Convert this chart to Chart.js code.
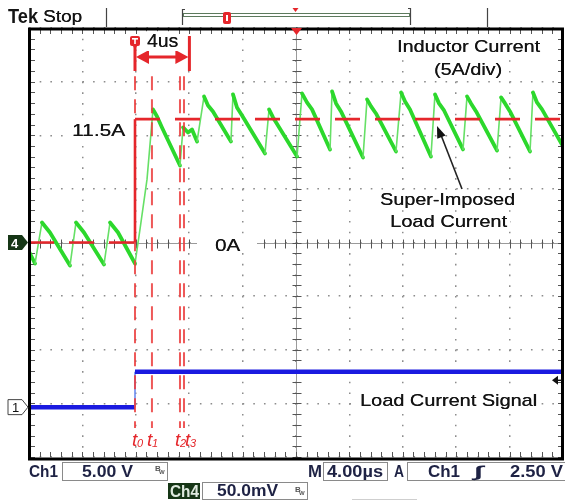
<!DOCTYPE html>
<html><head><meta charset="utf-8">
<script src="https://cdn.jsdelivr.net/npm/chart.js@4/dist/chart.umd.min.js"></script>
<style>html,body{margin:0;padding:0;background:#fff;overflow:hidden}canvas{display:block}</style>
</head><body>
<canvas id="c" width="565" height="501"></canvas>
<script>
// ---- axis settings (values) ----
const timeRange = [0, 40];        // µs, 4 µs/div, 10 div
const timePerDiv = 4;
const currentRange = [-20, 20];   // A, 5 A/div, 8 div
const ampsPerDiv = 5;
const voltsPerDiv = 5;            // Ch1 5.00 V/div
const ch1OffsetDiv = -3.07;       // Ch1 ground marker position (div from centre)
const triggerLevel = 2.5;         // V

// ---- Ch4: inductor current (A) vs time (µs) ----
const inductorTime = [0.00,0.45,0.97,1.27,1.57,3.07,3.52,3.82,4.12,5.62,6.07,6.37,6.67,7.94,8.31,8.84,9.29,9.59,9.96,11.31,11.54,11.91,12.21,12.59,13.11,13.41,13.78,15.13,15.28,15.58,15.96,17.68,17.98,18.28,18.65,20.08,20.45,20.82,21.20,22.55,22.70,23.00,23.37,25.02,25.32,25.62,25.99,27.49,27.87,28.17,28.54,30.11,30.41,30.71,31.09,32.51,32.81,33.11,33.49,35.06,35.36,35.66,36.03,37.53,37.75,38.05,38.43,40.00];
const inductorCurrent = [-0.84,-1.96,1.87,1.40,0.93,-2.15,1.87,1.40,0.93,-2.05,1.87,1.40,0.93,-1.96,1.21,5.88,12.41,11.75,10.73,7.18,10.73,10.26,10.54,9.42,13.62,12.78,12.22,9.42,13.81,12.59,11.85,8.30,12.41,11.66,10.91,8.02,13.90,13.06,12.41,8.68,14.09,12.97,12.22,7.93,13.34,12.69,12.03,8.49,13.99,13.15,12.41,8.02,13.81,12.97,12.31,8.68,13.62,12.97,12.22,8.58,13.53,12.97,12.22,8.49,13.99,13.06,12.41,8.96];

// ---- super-imposed load current step (A) ----
const loadTime = [0, 7.94, 7.94, 40];
const loadCurrent = [0, 0, 11.5, 11.5];
const stepLabel = '11.5A';
const zeroLabel = '0A';

// ---- Ch1: load current signal (V) ----
const signalTime = [0, 7.94, 7.94, 40];
const signalVolts = [0, 0, 3.3, 3.3];

// ---- time markers t0..t3 (µs) ----
const markerTimes = [7.94, 9.21, 11.31, 11.61];
const markerNames = ['0', '1', '2', '3'];
const markerSpan = [15.5, -17.3]; // A extent of the marker lines
const spanMicros = 4;
const spanLabel = '4us';

const toXY = (xs, ys) => xs.map((v, i) => ({x: v, y: ys[i]}));
const markerData = [];
markerTimes.forEach((t, i) => {
  if (i) markerData.push({x: t, y: null});
  markerData.push({x: t, y: markerSpan[0]}, {x: t, y: markerSpan[1]});
});

const RED = '#e5262b';
const FONT = '"Liberation Sans", Arial, sans-serif';
const INK = '#141414';

function txt(ctx, s, x, y, w, font, color) {
  ctx.save();
  ctx.font = font; ctx.fillStyle = color; ctx.textAlign = 'left'; ctx.textBaseline = 'alphabetic';
  const m = ctx.measureText(s).width;
  ctx.translate(x, y);
  if (w) ctx.scale(w / m, 1);
  ctx.fillText(s, 0, 0);
  ctx.restore();
}
function label(ctx, s, x, y, w, size, pad) {
  ctx.save();
  ctx.fillStyle = '#fff';
  ctx.fillRect(x - pad, y - size * 0.85, w + 2 * pad, size * 1.1);
  ctx.restore();
  txt(ctx, s, x, y, w, size + 'px ' + FONT, INK);
  txt(ctx, s, x + 0.3, y, w, size + 'px ' + FONT, INK);
}
function arrowHead(ctx, tx, ty, fx, fy, len, half) {
  const dx = tx - fx, dy = ty - fy, L = Math.hypot(dx, dy);
  const ux = dx / L, uy = dy / L;
  const bx = tx - ux * len, by = ty - uy * len;
  ctx.beginPath();
  ctx.moveTo(tx, ty);
  ctx.lineTo(bx - uy * half, by + ux * half);
  ctx.lineTo(bx + uy * half, by - ux * half);
  ctx.closePath(); ctx.fill();
}
function box(ctx, x1, y1, x2, y2) {
  ctx.save(); ctx.strokeStyle = '#8a8a8a'; ctx.lineWidth = 1;
  ctx.strokeRect(x1 + 0.5, y1 + 0.5, x2 - x1, y2 - y1); ctx.restore();
}
function tag(ctx, yc, fill, stroke) {
  ctx.beginPath();
  ctx.moveTo(8, yc - 7.5); ctx.lineTo(22, yc - 7.5); ctx.lineTo(28, yc);
  ctx.lineTo(22, yc + 7.5); ctx.lineTo(8, yc + 7.5); ctx.closePath();
  ctx.fillStyle = fill; ctx.fill();
  if (stroke) { ctx.strokeStyle = stroke; ctx.lineWidth = 1; ctx.stroke(); }
}

const scopePlugin = {
  id: 'scope',
  beforeDatasetsDraw(chart) {
    const {ctx, chartArea: a, scales: {x, y}} = chart;
    ctx.save();
    const cx = Math.round(x.getPixelForValue((timeRange[0] + timeRange[1]) / 2)) + 0.5;
    const cy = Math.round(y.getPixelForValue(0)) + 0.5;
    ctx.strokeStyle = '#9a9a9a'; ctx.lineWidth = 1;
    ctx.beginPath();
    ctx.moveTo(cx, a.top); ctx.lineTo(cx, a.bottom);
    ctx.moveTo(a.left, cy); ctx.lineTo(a.right, cy);
    ctx.stroke();
    ctx.strokeStyle = '#555'; ctx.beginPath();
    for (let v = timeRange[0]; v <= timeRange[1] + 1e-6; v += timePerDiv / 5) {
      const px = Math.round(x.getPixelForValue(v)) + 0.5;
      ctx.moveTo(px, cy - 4); ctx.lineTo(px, cy + 5);
      ctx.moveTo(px, a.top); ctx.lineTo(px, a.top + 6);
      ctx.moveTo(px, a.bottom); ctx.lineTo(px, a.bottom - 5);
    }
    for (let v = currentRange[0]; v <= currentRange[1] + 1e-6; v += ampsPerDiv / 5) {
      const py = Math.round(y.getPixelForValue(v)) + 0.5;
      ctx.moveTo(cx - 4, py); ctx.lineTo(cx + 5, py);
      ctx.moveTo(a.left, py); ctx.lineTo(a.left + 6, py);
      ctx.moveTo(a.right, py); ctx.lineTo(a.right - 5, py);
    }
    ctx.stroke();
    // white patches behind the annotation labels (they hide the graticule)
    ctx.fillStyle = '#fff';
    ctx.fillRect(197, cy - 8, 60, 17);
    ctx.restore();
  },
  afterDatasetsDraw(chart) {
    const {ctx, chartArea: a, scales: {x, y, y2}} = chart;
    ctx.save();
    // frame
    ctx.strokeStyle = '#000'; ctx.lineWidth = 3;
    ctx.strokeRect(a.left + 0.5, a.top + 1, a.right - a.left - 1, a.bottom - a.top + 1);
    const cx = x.getPixelForValue((timeRange[0] + timeRange[1]) / 2);
    // horizontal position marker
    ctx.fillStyle = RED;
    ctx.beginPath(); ctx.moveTo(cx - 5, a.top); ctx.lineTo(cx + 6, a.top); ctx.lineTo(cx + 0.5, a.top + 7); ctx.closePath(); ctx.fill();

    // trigger marker + 4us span arrow
    const x0 = x.getPixelForValue(markerTimes[0]);
    const xs = x.getPixelForValue(markerTimes[0] + spanMicros);
    ctx.fillStyle = RED;
    ctx.beginPath(); ctx.roundRect(x0 - 5, 36, 10, 10, 2); ctx.fill();
    ctx.beginPath(); ctx.moveTo(x0 - 3, 45); ctx.lineTo(x0 + 3, 45); ctx.lineTo(x0, 49); ctx.closePath(); ctx.fill();
    ctx.fillStyle = '#fff';
    ctx.fillRect(x0 - 3, 38, 6, 1.6); ctx.fillRect(x0 - 0.8, 38, 1.6, 6);
    ctx.strokeStyle = RED; ctx.lineWidth = 3;
    ctx.beginPath();
    ctx.moveTo(x0, 47); ctx.lineTo(x0, 71);
    ctx.moveTo(xs + 1, 36); ctx.lineTo(xs + 1, 71);
    ctx.moveTo(x0 + 8, 57); ctx.lineTo(xs - 8, 57);
    ctx.stroke();
    ctx.fillStyle = RED;
    arrowHead(ctx, x0 + 1, 57, x0 + 20, 57, 13, 7);
    arrowHead(ctx, xs, 57, xs - 20, 57, 13, 7);
    label(ctx, spanLabel, 147, 46.5, 31, 18, 1);

    // marker labels t0..t3
    const offs = [-3, -5, -5, 1];
    markerTimes.forEach((t, i) => {
      const px = x.getPixelForValue(t) + offs[i];
      txt(ctx, 't', px, 446, null, 'italic 19px ' + FONT, RED);
      txt(ctx, markerNames[i], px + 5, 447, null, 'italic 11px ' + FONT, RED);
    });

    // level labels
    label(ctx, stepLabel, 72, y.getPixelForValue(11.5) + 17, 53, 17, 2);
    txt(ctx, zeroLabel, 215, y.getPixelForValue(0) + 8.5, 25, '17px ' + FONT, INK);
    txt(ctx, zeroLabel, 215.3, y.getPixelForValue(0) + 8.5, 25, '17px ' + FONT, INK);

    // annotations
    label(ctx, 'Inductor Current', 397, 52, 143, 17, 3);
    label(ctx, '(5A/div)', 434, 74.5, 68, 17, 3);
    label(ctx, 'Super-Imposed', 380, 204.5, 135, 17, 3);
    label(ctx, 'Load Current', 390, 227, 117, 17, 3);
    label(ctx, 'Load Current Signal', 360, 406, 177, 17, 3);
    ctx.strokeStyle = '#222'; ctx.lineWidth = 1.6; ctx.fillStyle = '#111';
    ctx.beginPath(); ctx.moveTo(462, 189); ctx.lineTo(441, 135); ctx.stroke();
    arrowHead(ctx, 437, 126, 462, 189, 12, 4.5);

    // channel tags
    const y4 = y.getPixelForValue(0);
    tag(ctx, y4, '#163616');
    txt(ctx, '4', 11, y4 + 5, null, 'bold 13px ' + FONT, '#fff');
    const y1 = y2.getPixelForValue(0);
    tag(ctx, y1, '#fff', '#444');
    txt(ctx, '1', 12, y1 + 5, null, '13px ' + FONT, '#111');
    // trigger level arrow
    const yt = y2.getPixelForValue(triggerLevel);
    ctx.fillStyle = '#111';
    ctx.beginPath(); ctx.moveTo(552, yt); ctx.lineTo(558, yt - 4.5); ctx.lineTo(558, yt + 4.5); ctx.closePath(); ctx.fill();
    ctx.fillRect(557, yt - 0.7, 5, 1.4);

    // top bar
    txt(ctx, 'Tek', 8, 23, 30, 'bold 21px ' + FONT, '#151515');
    txt(ctx, 'Stop', 43, 21.5, 39, '16px ' + FONT, '#151515');
    txt(ctx, 'Stop', 43.3, 21.5, 39, '16px ' + FONT, '#151515');
    ctx.strokeStyle = '#444'; ctx.lineWidth = 1.2;
    ctx.beginPath();
    ctx.moveTo(106.5, 8); ctx.lineTo(106.5, 27);
    ctx.moveTo(487.5, 8); ctx.lineTo(487.5, 27);
    ctx.moveTo(185, 9.5); ctx.lineTo(182.5, 9.5); ctx.lineTo(182.5, 25);
    ctx.moveTo(408, 8.5); ctx.lineTo(410.5, 8.5); ctx.lineTo(410.5, 25);
    ctx.stroke();
    ctx.strokeStyle = '#5d7a5d'; ctx.lineWidth = 1;
    ctx.strokeRect(183.5, 13.5, 226, 3);
    ctx.fillStyle = RED;
    ctx.beginPath(); ctx.roundRect(223, 12, 8, 12, 2); ctx.fill();
    ctx.fillStyle = '#fff'; ctx.fillRect(226, 15, 2, 6);
    ctx.fillStyle = RED;
    ctx.beginPath(); ctx.moveTo(292.5, 8); ctx.lineTo(298.5, 8); ctx.lineTo(295.5, 12); ctx.closePath(); ctx.fill();

    // bottom readouts
    const NAVY = '#1e2244';
    const MONO = 'bold 16px ' + FONT;
    txt(ctx, 'Ch1', 29, 477, 29, MONO, NAVY);
    box(ctx, 62, 462, 167, 480);
    txt(ctx, '5.00 V', 82, 477, 51, MONO, NAVY);
    txt(ctx, 'B', 155, 471, null, 'bold 8px ' + FONT, '#555');
    txt(ctx, 'W', 159, 474, null, 'bold 6px ' + FONT, '#555');
    ctx.fillStyle = '#163616'; ctx.fillRect(168, 483, 32, 16);
    txt(ctx, 'Ch4', 170, 497, 29, MONO, '#dfeadf');
    box(ctx, 202, 482, 307, 499);
    txt(ctx, '50.0mV', 217, 496, 61, MONO, NAVY);
    txt(ctx, 'B', 295, 492, null, 'bold 8px ' + FONT, '#555');
    txt(ctx, 'W', 299, 495, null, 'bold 6px ' + FONT, '#555');
    txt(ctx, 'M', 308, 477, 14, MONO, NAVY);
    box(ctx, 323, 462, 387, 480);
    txt(ctx, '4.00µs', 327, 477, 56, MONO, NAVY);
    txt(ctx, 'A', 394, 477, 10, MONO, NAVY);
    box(ctx, 407, 462, 570, 480);
    txt(ctx, 'Ch1', 428, 477, 32, MONO, NAVY);
    txt(ctx, '∫', 474, 477, 9, 'bold italic 16px ' + FONT, NAVY);
    txt(ctx, '2.50 V', 510, 477, 53, MONO, NAVY);
    ctx.strokeStyle = '#cfcfcf'; ctx.lineWidth = 1;
    ctx.beginPath(); ctx.moveTo(352, 499.5); ctx.lineTo(417, 499.5); ctx.stroke();
    ctx.restore();
  }
};

const steep = c => {
  const dx = c.p1.parsed.x - c.p0.parsed.x, dy = c.p1.parsed.y - c.p0.parsed.y;
  return dx === 0 || dy / dx > 6;
};

new Chart(document.getElementById('c'), {
  type: 'line',
  data: {
    datasets: [
      {
        label: 'Super-imposed load current (A)', data: toXY(loadTime, loadCurrent), yAxisID: 'y', order: 0,
        borderColor: RED, borderWidth: 2.6, pointRadius: 0, fill: false, tension: 0,
        segment: { borderDash: c => (c.p0.parsed.x === c.p1.parsed.x ? [] : [25, 15]) }
      },
      {
        label: 'Time markers', data: markerData, yAxisID: 'y', order: 1, spanGaps: false,
        borderColor: 'rgba(235,60,60,0.85)', borderWidth: 2, borderDash: [14, 9], pointRadius: 0, fill: false
      },
      {
        label: 'Inductor current (A)', data: toXY(inductorTime, inductorCurrent), yAxisID: 'y', order: 2,
        borderColor: '#2cd82c', borderWidth: 3.8, pointRadius: 0, fill: false, tension: 0,
        borderJoinStyle: 'round', borderCapStyle: 'round',
        segment: {
          borderWidth: c => (steep(c) ? 1.6 : 3.8),
          borderColor: c => (steep(c) ? '#66e066' : '#2cd82c')
        }
      },
      {
        label: 'Load current signal (V)', data: toXY(signalTime, signalVolts), yAxisID: 'y2', order: 3,
        borderColor: '#1a1ae0', borderWidth: 4.5, pointRadius: 0, fill: false, tension: 0,
        segment: {
          borderWidth: c => (c.p0.parsed.x === c.p1.parsed.x ? 1.6 : 4.5),
          borderColor: c => (c.p0.parsed.x === c.p1.parsed.x ? '#6a8cf0' : '#1a1ae0')
        }
      }
    ]
  },
  options: {
    responsive: false, animation: false, devicePixelRatio: 1,
    layout: { padding: { left: 29, top: 28, right: 2, bottom: 44 } },
    plugins: { legend: { display: false }, tooltip: { enabled: false }, title: { display: false } },
    scales: {
      x: {
        type: 'linear', min: timeRange[0], max: timeRange[1],
        ticks: { display: false, stepSize: timePerDiv },
        grid: { color: '#8c8c8c', lineWidth: 1.5, drawTicks: false },
        border: { display: false, dash: [1.6, 9.12] }
      },
      y: {
        type: 'linear', min: currentRange[0], max: currentRange[1],
        ticks: { display: false, stepSize: ampsPerDiv },
        grid: { color: '#8c8c8c', lineWidth: 1.5, drawTicks: false },
        border: { display: false, dash: [1.6, 9.08] }
      },
      y2: {
        type: 'linear', display: false, position: 'right',
        min: (-4 - ch1OffsetDiv) * voltsPerDiv, max: (4 - ch1OffsetDiv) * voltsPerDiv
      }
    }
  },
  plugins: [scopePlugin]
});
</script>
</body></html>
